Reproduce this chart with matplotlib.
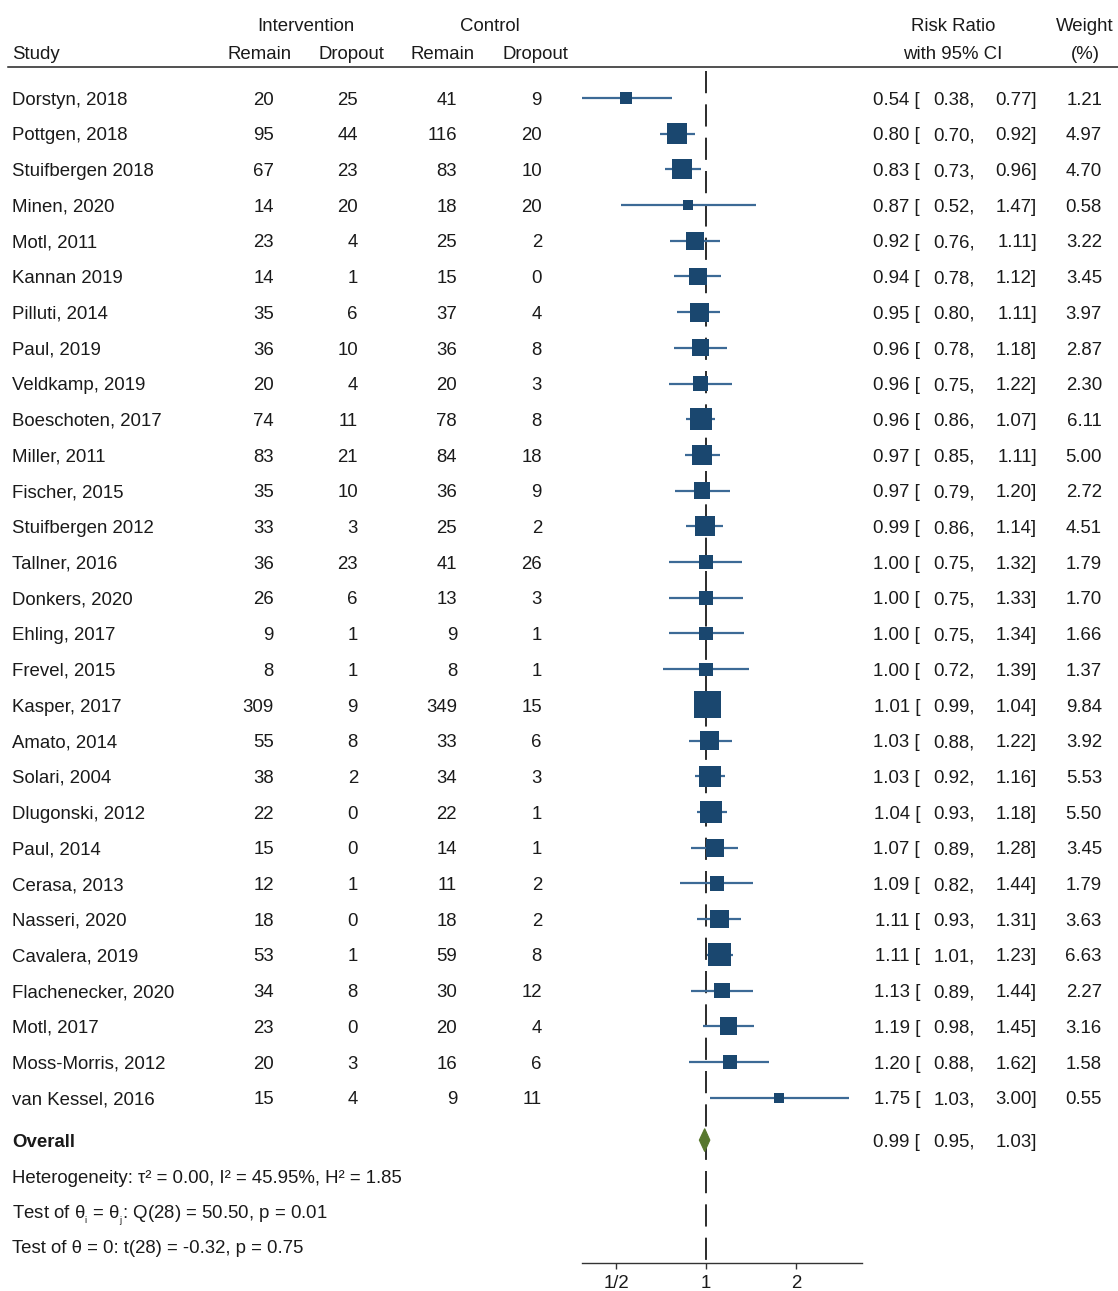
import numpy as np
import matplotlib
matplotlib.use('Agg')
from matplotlib import pyplot as plt
from matplotlib import transforms
from matplotlib.lines import Line2D
from matplotlib.patches import Polygon

plt.rcParams['font.family'] = ['Liberation Sans', 'DejaVu Sans']
plt.rcParams['mathtext.fontset'] = 'custom'
plt.rcParams['mathtext.rm'] = 'Liberation Sans'
plt.rcParams['mathtext.it'] = 'Liberation Sans'
plt.rcParams['lines.scale_dashes'] = False

# Study level data
studies = ['Dorstyn, 2018', 'Pottgen, 2018', 'Stuifbergen 2018', 'Minen, 2020', 'Motl, 2011',
           'Kannan 2019', 'Pilluti, 2014', 'Paul, 2019', 'Veldkamp, 2019', 'Boeschoten, 2017',
           'Miller, 2011', 'Fischer, 2015', 'Stuifbergen 2012', 'Tallner, 2016', 'Donkers, 2020',
           'Ehling, 2017', 'Frevel, 2015', 'Kasper, 2017', 'Amato, 2014', 'Solari, 2004',
           'Dlugonski, 2012', 'Paul, 2014', 'Cerasa, 2013', 'Nasseri, 2020', 'Cavalera, 2019',
           'Flachenecker, 2020', 'Motl, 2017', 'Moss-Morris, 2012', 'van Kessel, 2016']
int_remain = [20, 95, 67, 14, 23, 14, 35, 36, 20, 74, 83, 35, 33, 36, 26, 9, 8, 309, 55, 38,
              22, 15, 12, 18, 53, 34, 23, 20, 15]
int_dropout = [25, 44, 23, 20, 4, 1, 6, 10, 4, 11, 21, 10, 3, 23, 6, 1, 1, 9, 8, 2,
               0, 0, 1, 0, 1, 8, 0, 3, 4]
ctl_remain = [41, 116, 83, 18, 25, 15, 37, 36, 20, 78, 84, 36, 25, 41, 13, 9, 8, 349, 33, 34,
              22, 14, 11, 18, 59, 30, 20, 16, 9]
ctl_dropout = [9, 20, 10, 20, 2, 0, 4, 8, 3, 8, 18, 9, 2, 26, 3, 1, 1, 15, 6, 3,
               1, 1, 2, 2, 8, 12, 4, 6, 11]
rr = [0.54, 0.80, 0.83, 0.87, 0.92, 0.94, 0.95, 0.96, 0.96, 0.96, 0.97, 0.97, 0.99, 1.00, 1.00,
      1.00, 1.00, 1.01, 1.03, 1.03, 1.04, 1.07, 1.09, 1.11, 1.11, 1.13, 1.19, 1.20, 1.75]
ci_low = [0.38, 0.70, 0.73, 0.52, 0.76, 0.78, 0.80, 0.78, 0.75, 0.86, 0.85, 0.79, 0.86, 0.75, 0.75,
          0.75, 0.72, 0.99, 0.88, 0.92, 0.93, 0.89, 0.82, 0.93, 1.01, 0.89, 0.98, 0.88, 1.03]
ci_high = [0.77, 0.92, 0.96, 1.47, 1.11, 1.12, 1.11, 1.18, 1.22, 1.07, 1.11, 1.20, 1.14, 1.32, 1.33,
           1.34, 1.39, 1.04, 1.22, 1.16, 1.18, 1.28, 1.44, 1.31, 1.23, 1.44, 1.45, 1.62, 3.00]
weights = [1.21, 4.97, 4.70, 0.58, 3.22, 3.45, 3.97, 2.87, 2.30, 6.11, 5.00, 2.72, 4.51, 1.79, 1.70,
           1.66, 1.37, 9.84, 3.92, 5.53, 5.50, 3.45, 1.79, 3.63, 6.63, 2.27, 3.16, 1.58, 0.55]

# Pooled estimate and summary statistics
overall_rr = 0.99
overall_low = 0.95
overall_high = 1.03
summary_lines = [
    'Heterogeneity: τ² = 0.00, I² = 45.95%, H² = 1.85',
    r'Test of $\mathrm{\theta_{_i}}$ = $\mathrm{\theta_{_j}}$: Q(28) = 50.50, p = 0.01',
    'Test of θ = 0: t(28) = -0.32, p = 0.75',
]
xticks = [0.5, 1, 2]
xtick_labels = ['1/2', '1', '2']

W, H = 1118, 1291
DPI = 100
FS = 13.4
TXT = '#1a1a1a'
NAVY = '#1a476f'
CI_COLOR = '#3c6a96'
GREEN = '#58782e'

fig = plt.figure(figsize=(W / DPI, H / DPI), dpi=DPI)
fig.patch.set_facecolor('white')

def fx(px):
    return px / W

def fy(py):
    return 1 - py / H

# Plot panel: rows are spaced ~35.7 px starting at y=98
row_h = 35.7
top_px, bot_px = 67, 1263
ax = fig.add_axes([fx(582), fy(bot_px), fx(862) - fx(582), fy(top_px) - fy(bot_px)])
ax.set_xscale('log')
ax.set_xlim(2 ** ((582 - 706) / 90), 2 ** ((862 - 706) / 90))
ax.set_ylim((bot_px - 98) / row_h, (top_px - 98) / row_h)
for side in ['top', 'left', 'right']:
    ax.spines[side].set_visible(False)
ax.spines['bottom'].set_color('#333333')
ax.spines['bottom'].set_linewidth(1.0)
ax.set_yticks([])
ax.set_xticks(xticks)
ax.set_xticklabels(xtick_labels)
ax.xaxis.set_minor_locator(matplotlib.ticker.NullLocator())
ax.tick_params(axis='x', length=4, width=1.0, color='#333333', labelsize=FS, labelcolor=TXT, pad=5)
ax.patch.set_alpha(0)

rows = np.arange(len(studies))
overall_row = 29.19
summary_rows = [30.2, 31.2, 32.18]

# Reference line at RR = 1
ax.plot([1, 1], [ax.get_ylim()[1] + 0.1, ax.get_ylim()[0]], color='#2b2b2b', lw=1.4,
        dashes=(16, 8), zorder=1, clip_on=False)

# Confidence intervals and weighted squares
ax.hlines(rows, ci_low, ci_high, color=CI_COLOR, lw=1.6, zorder=2)
side_px = 4.8 + 7.1 * np.sqrt(np.array(weights))
side_pt = side_px * 72 / DPI
ax.scatter(rr, rows, s=side_pt ** 2, marker='s', color=NAVY, linewidths=0, zorder=3)

# Overall diamond
dh = 0.32
diamond = Polygon([[overall_low, overall_row], [overall_rr, overall_row - dh],
                   [overall_high, overall_row], [overall_rr, overall_row + dh]],
                  closed=True, facecolor=GREEN, edgecolor=GREEN, lw=0.8, zorder=3)
ax.add_patch(diamond)

# Text sits on a baseline half a cap height below the row centre
cap_half_px = 0.716 * FS * DPI / 72 / 2
tr = transforms.blended_transform_factory(fig.transFigure, ax.transData)

def put(xpx, row, s, ha='left', **kw):
    fig.text(fx(xpx), row + cap_half_px / row_h, s, transform=tr, ha=ha, va='baseline',
             fontsize=FS, color=TXT, **kw)

for i in rows:
    put(12, i, studies[i])
    put(274, i, str(int_remain[i]), ha='right')
    put(358, i, str(int_dropout[i]), ha='right')
    put(457, i, str(ctl_remain[i]), ha='right')
    put(542, i, str(ctl_dropout[i]), ha='right')
    put(920, i, f'{rr[i]:.2f} [', ha='right')
    put(975, i, f'{ci_low[i]:.2f},', ha='right')
    put(1037, i, f'{ci_high[i]:.2f}]', ha='right')
    put(1102, i, f'{weights[i]:.2f}', ha='right')

put(12, overall_row, 'Overall', fontweight='bold')
put(920, overall_row, f'{overall_rr:.2f} [', ha='right')
put(975, overall_row, f'{overall_low:.2f},', ha='right')
put(1037, overall_row, f'{overall_high:.2f}]', ha='right')
for r, s in zip(summary_rows, summary_lines):
    put(12, r, s)

# Column headers
def head(xpx, ypx, s, ha='center'):
    fig.text(fx(xpx), fy(ypx + cap_half_px), s, ha=ha, va='baseline', fontsize=FS, color=TXT)

head(306, 24, 'Intervention')
head(490, 24, 'Control')
head(953, 24, 'Risk Ratio')
head(1085, 24, 'Weight')
head(12, 52, 'Study', ha='left')
head(260, 52, 'Remain')
head(351, 52, 'Dropout')
head(443, 52, 'Remain')
head(535, 52, 'Dropout')
head(953, 52, 'with 95% CI')
head(1085, 52, '(%)')

fig.add_artist(Line2D([fx(8), fx(1118)], [fy(67), fy(67)], color='#222222', lw=1.1))

fig.savefig('out.png', dpi=DPI, facecolor='white')
